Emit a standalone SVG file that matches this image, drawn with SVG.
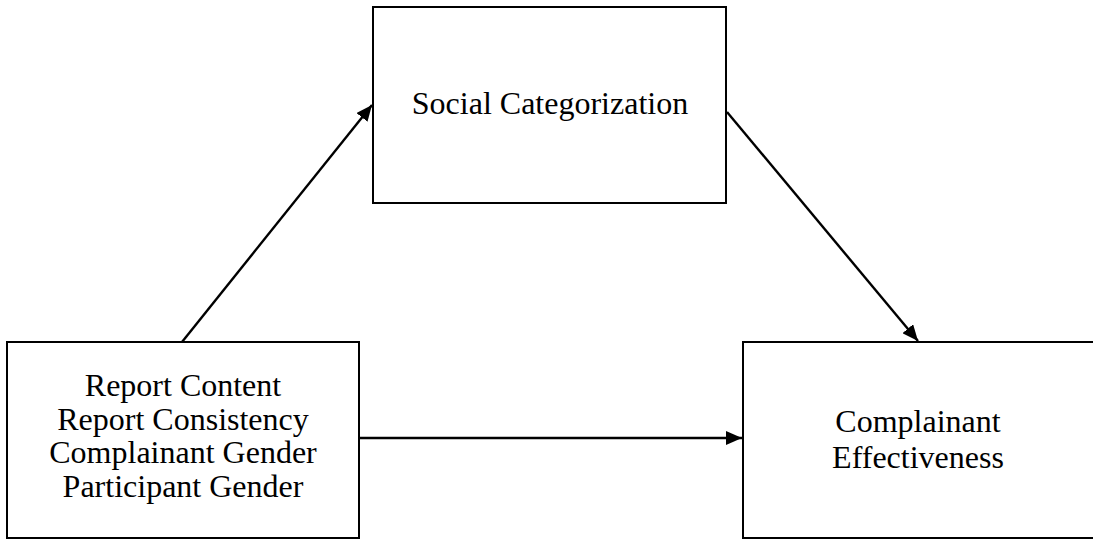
<svg xmlns="http://www.w3.org/2000/svg" width="1093" height="540" viewBox="0 0 1093 540">
  <style>
    .box { fill: #ffffff; stroke: #000000; stroke-width: 2; }
    .lbl { font-family: "Liberation Serif", "Times New Roman", serif; font-size: 32px; fill: #000000; text-anchor: middle; }
    .conn { stroke: #000000; stroke-width: 2.4; fill: none; marker-end: url(#arrow); }
  </style>
  <defs>
    <marker id="arrow" markerUnits="userSpaceOnUse" markerWidth="18" markerHeight="14" refX="16" refY="7" orient="auto">
      <path d="M0,0 L16,7 L0,14 Z" fill="#000000"/>
    </marker>
  </defs>
  <rect width="1093" height="540" fill="#ffffff"/>
  <g id="connectors">
    <line class="conn" x1="182" y1="342" x2="372" y2="105"/>
    <line class="conn" x1="727" y1="112" x2="918" y2="341"/>
    <line class="conn" x1="359" y1="438" x2="742" y2="438"/>
  </g>
  <g id="social-categorization">
    <rect class="box" x="373" y="7" width="353" height="196"/>
    <text class="lbl" x="550" y="114">Social Categorization</text>
  </g>
  <g id="predictors">
    <rect class="box" x="7" y="342" width="352" height="196"/>
    <text class="lbl" x="183" y="396">Report Content</text>
    <text class="lbl" x="183" y="429.5">Report Consistency</text>
    <text class="lbl" x="183" y="463">Complainant Gender</text>
    <text class="lbl" x="183" y="496.5">Participant Gender</text>
  </g>
  <g id="complainant-effectiveness">
    <rect class="box" x="743" y="342" width="360" height="196"/>
    <text class="lbl" x="918" y="432">Complainant</text>
    <text class="lbl" x="918" y="468">Effectiveness</text>
  </g>
</svg>
